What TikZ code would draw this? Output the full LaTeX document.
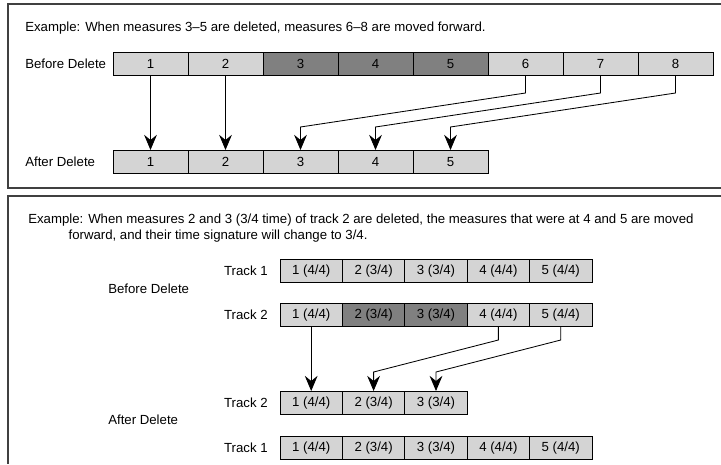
\documentclass[tikz,border=0pt]{standalone}
\usepackage{fontspec}
\setmainfont{Liberation Sans}
\usetikzlibrary{arrows.meta}
\definecolor{CellGray}{RGB}{212, 212, 212}
\definecolor{GoneGray}{RGB}{128, 128, 128}
\definecolor{FrameGray}{RGB}{64, 64, 64}

\begin{document}
\begin{tikzpicture}[
            cell/.style={draw, line width=0.7pt, fill=CellGray, inner sep=0pt,
                         minimum width=1.875cm, minimum height=0.575cm,
                         font=\fontsize{9.4}{11}\selectfont},
            gone/.style={cell, fill=GoneGray},
            tcell/.style={cell, minimum width=1.56cm},
            tgone/.style={tcell, fill=GoneGray},
            label/.style={anchor=west, inner sep=0pt, font=\fontsize{9.4}{11.2}\selectfont},
            frame/.style={FrameGray, line width=1pt},
            move/.style={line width=0.6pt,
                         -{Stealth[length=3.8mm, width=3.2mm, inset=1.3mm]}}
        ]
            \useasboundingbox (0,0) rectangle (18.025,11.6);

            % upper example
            \draw[frame] (18.025,11.5) -- (0.2,11.5) -- (0.2,6.9) -- (18.025,6.9);
            \node[label] (ex1) at (0.625,10.9)
                {Example: When measures 3--5 are deleted, measures 6--8 are moved forward.};
            \node[label] (bd1) at (0.625,10.0) {Before Delete};
            \node[label] (ad1) at (0.625,7.55) {After Delete};

            \node[cell] (b1) at (3.7625,10.0) {1};
            \node[cell] (b2) at (5.6375,10.0) {2};
            \node[gone] (b3) at (7.5125,10.0) {3};
            \node[gone] (b4) at (9.3875,10.0) {4};
            \node[gone] (b5) at (11.2625,10.0) {5};
            \node[cell] (b6) at (13.1375,10.0) {6};
            \node[cell] (b7) at (15.0125,10.0) {7};
            \node[cell] (b8) at (16.8875,10.0) {8};

            \node[cell] (a1) at (3.7625,7.55) {1};
            \node[cell] (a2) at (5.6375,7.55) {2};
            \node[cell] (a3) at (7.5125,7.55) {3};
            \node[cell] (a4) at (9.3875,7.55) {4};
            \node[cell] (a5) at (11.2625,7.55) {5};

            \coordinate (knee1) at (0,9.275);
            \coordinate (drop1) at (0,8.425);
            \draw[move] (b1) -- (a1);
            \draw[move] (b2) -- (a2);
            \draw[move] (b6.south) -- (b6.south |- knee1) -- (a3.north |- drop1) -- (a3.north);
            \draw[move] (b7.south) -- (b7.south |- knee1) -- (a4.north |- drop1) -- (a4.north);
            \draw[move] (b8.south) -- (b8.south |- knee1) -- (a5.north |- drop1) -- (a5.north);

            % lower example
            \draw[frame] (18.025,6.7) -- (0.2,6.7) -- (0.2,0);
            \node[label, align=left] (ex2) at (0.7,5.9)
                {Example: When measures 2 and 3 (3/4 time) of track 2 are deleted, the measures that were at 4 and 5 are moved\\
                 \hspace*{3.05em}forward, and their time signature will change to 3/4.};
            \node[label] (bd2) at (2.7,4.375) {Before Delete};
            \node[label] (ad2) at (2.7,1.1) {After Delete};

            \node[label, anchor=east] (tr1) at (6.7,4.825) {Track 1};
            \node[label, anchor=east] (tr2) at (6.7,3.725) {Track 2};
            \node[label, anchor=east] (tr3) at (6.7,1.525) {Track 2};
            \node[label, anchor=east] (tr4) at (6.7,0.4) {Track 1};

            \node[tcell] (p1) at (7.78,4.825) {1 (4/4)};
            \node[tcell] (p2) at (9.34,4.825) {2 (3/4)};
            \node[tcell] (p3) at (10.90,4.825) {3 (3/4)};
            \node[tcell] (p4) at (12.46,4.825) {4 (4/4)};
            \node[tcell] (p5) at (14.02,4.825) {5 (4/4)};

            \node[tcell] (q1) at (7.78,3.725) {1 (4/4)};
            \node[tgone] (q2) at (9.34,3.725) {2 (3/4)};
            \node[tgone] (q3) at (10.90,3.725) {3 (3/4)};
            \node[tcell] (q4) at (12.46,3.725) {4 (4/4)};
            \node[tcell] (q5) at (14.02,3.725) {5 (4/4)};

            \node[tcell] (r1) at (7.78,1.525) {1 (4/4)};
            \node[tcell] (r2) at (9.34,1.525) {2 (3/4)};
            \node[tcell] (r3) at (10.90,1.525) {3 (3/4)};

            \node[tcell] (s1) at (7.78,0.4) {1 (4/4)};
            \node[tcell] (s2) at (9.34,0.4) {2 (3/4)};
            \node[tcell] (s3) at (10.90,0.4) {3 (3/4)};
            \node[tcell] (s4) at (12.46,0.4) {4 (4/4)};
            \node[tcell] (s5) at (14.02,0.4) {5 (4/4)};

            \coordinate (knee2) at (0,3.1);
            \coordinate (drop2) at (0,2.3);
            \draw[move] (q1) -- (r1);
            \draw[move] (q4.south) -- (q4.south |- knee2) -- (r2.north |- drop2) -- (r2.north);
            \draw[move] (q5.south) -- (q5.south |- knee2) -- (r3.north |- drop2) -- (r3.north);
        \end{tikzpicture}
\end{document}
